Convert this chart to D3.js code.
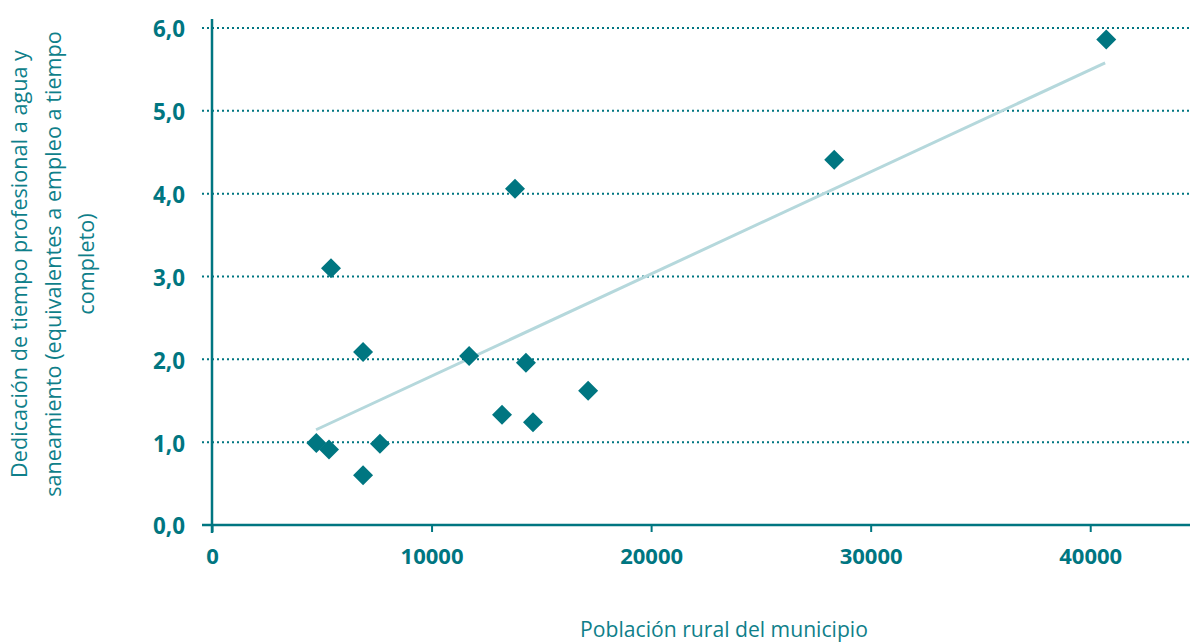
<!DOCTYPE html>
<html><head><meta charset="utf-8">
<script src="https://cdn.jsdelivr.net/npm/d3@7"></script>
<style>body{margin:0;background:#fff}svg{display:block}text{font-family:"Open Sans",Lato,sans-serif}</style>
</head><body><svg id="c" width="1191" height="644"></svg>
<script>
const poblacion = [4750, 5330, 5420, 6880, 6880, 7650, 11710, 13210, 13800, 14300, 14620, 17130, 28340, 40730];
const dedicacion = [0.99, 0.91, 3.1, 0.6, 2.09, 0.98, 2.04, 1.33, 4.06, 1.96, 1.24, 1.62, 4.41, 5.86];
const trendX = [4740, 40680];
const trendY = [1.15, 5.58];
const xTicks = [0, 10000, 20000, 30000, 40000];
const yTicks = [0, 1, 2, 3, 4, 5, 6];
const teal = "#007681";

const svg = d3.select("#c");
const x = d3.scaleLinear().domain([0, 45000]).range([212, 1200]);
const y = d3.scaleLinear().domain([0, 6]).range([525, 28]);

function fit(sel, ref, target) {
  const fs = +sel.attr("font-size");
  const len = ref.getComputedTextLength();
  sel.attr("font-size", fs * target / len);
}

// gridlines
svg.append("g").selectAll("line").data(yTicks.filter(d=>d>0)).join("line")
  .attr("x1", 202).attr("x2", 1190).attr("y1", d=>y(d)).attr("y2", d=>y(d))
  .attr("stroke", teal).attr("stroke-width", 2).attr("stroke-dasharray", "2,3");

// x axis
const xa = svg.append("g").attr("transform", `translate(0,${y(0)})`)
  .call(d3.axisBottom(x).tickValues(xTicks).tickSize(7).tickFormat(d3.format("d")));
xa.select(".domain").remove();
xa.selectAll(".tick line").attr("stroke", teal).attr("stroke-width", 2);
const xt = xa.selectAll(".tick text").attr("fill", teal).attr("font-size", 20).attr("font-weight", 700).attr("dy", null).attr("y", 39);
fit(xt, xt.nodes()[1], 63);
svg.append("line").attr("x1", 202).attr("x2", 1190).attr("y1", y(0)).attr("y2", y(0)).attr("stroke", teal).attr("stroke-width", 2.5);

// y axis
const ya = svg.append("g").attr("transform", `translate(${x(0)},0)`)
  .call(d3.axisLeft(y).tickValues(yTicks).tickSize(0).tickPadding(27).tickFormat(d => d3.format(".1f")(d).replace(".", ",")));
ya.select(".domain").remove();
const ytx = ya.selectAll(".tick text").attr("fill", teal).attr("font-size", 20).attr("font-weight", 700).attr("dy", "0.4em");
fit(ytx, ytx.nodes()[6], 32);
svg.append("line").attr("x1", x(0)).attr("x2", x(0)).attr("y1", 19).attr("y2", 533).attr("stroke", teal).attr("stroke-width", 2.5);

// trend
svg.append("line").attr("x1", x(trendX[0])).attr("y1", y(trendY[0])).attr("x2", x(trendX[1])).attr("y2", y(trendY[1]))
  .attr("stroke", "#b5d8dc").attr("stroke-width", 3);

// points
const sym = d3.symbol().type(d3.symbolSquare).size(200);
svg.append("g").selectAll("path").data(poblacion.map((p,i)=>[p, dedicacion[i]])).join("path")
  .attr("d", sym).attr("transform", d=>`translate(${x(d[0])},${y(d[1])}) rotate(45)`).attr("fill", teal);

// titles
const xtitle = svg.append("text").attr("x", 724).attr("y", 637).attr("text-anchor", "middle").attr("fill", "#0f7f8a").attr("font-size", 19).text("Población rural del municipio");
fit(xtitle, xtitle.node(), 288);
const yt = svg.append("text").attr("transform", "translate(0,264) rotate(-90)").attr("text-anchor", "middle").attr("fill", "#0f7f8a").attr("font-size", 18);
const lines = ["Dedicación de tiempo profesional a agua y", "saneamiento (equivalentes a empleo a tiempo", "completo)"];
const spans = lines.map((t,i)=> yt.append("tspan").attr("x", 0).attr("y", 27 + i*33.5).text(t));
fit(yt, spans[1].node(), 466);
</script></body></html>
